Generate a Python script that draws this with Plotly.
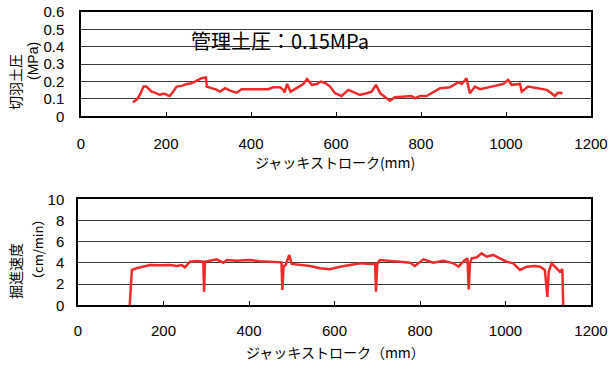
import plotly.graph_objects as go

# Face pressure (MPa) against jack stroke (mm)
stroke_p = [122, 126, 132, 140, 147, 154, 160, 166, 172, 178, 186, 192, 198, 204, 209,
            217, 225, 237, 249, 260, 268, 276, 284, 294, 296, 307, 317, 327, 339, 351,
            366, 378, 398, 421, 441, 452, 468, 476, 479, 485, 493, 507, 523, 532, 543,
            555, 564, 576, 586, 598, 613, 629, 641, 656, 672, 684, 694, 704, 719, 727,
            739, 758, 778, 786, 798, 813, 829, 845, 868, 880, 888, 896, 907, 915, 927,
            939, 962, 978, 994, 1005, 1013, 1033, 1037, 1052, 1072, 1096, 1107, 1115,
            1123, 1133]
pressure = [0.081, 0.090, 0.098, 0.130, 0.171, 0.171, 0.155, 0.142, 0.138, 0.133, 0.123,
            0.130, 0.129, 0.120, 0.117, 0.142, 0.171, 0.175, 0.186, 0.190, 0.200, 0.213,
            0.219, 0.223, 0.171, 0.162, 0.155, 0.142, 0.162, 0.148, 0.136, 0.156, 0.156,
            0.152, 0.156, 0.167, 0.167, 0.152, 0.138, 0.186, 0.142, 0.162, 0.186, 0.215,
            0.181, 0.186, 0.200, 0.190, 0.171, 0.133, 0.117, 0.152, 0.138, 0.123, 0.133,
            0.142, 0.181, 0.133, 0.104, 0.090, 0.110, 0.113, 0.117, 0.104, 0.117, 0.117,
            0.142, 0.162, 0.167, 0.186, 0.196, 0.186, 0.219, 0.133, 0.171, 0.156, 0.167,
            0.175, 0.186, 0.209, 0.181, 0.186, 0.142, 0.171, 0.162, 0.152, 0.133, 0.117,
            0.136, 0.133]

# Excavation speed (cm/min) against jack stroke (mm)
stroke_v = [121, 124, 126, 137, 153, 168, 192, 215, 231, 243, 250, 262, 278, 293, 295,
            297, 309, 324, 340, 348, 371, 402, 426, 449, 472, 476, 478, 481, 486, 494,
            500, 519, 543, 566, 589, 613, 636, 660, 683, 695, 697, 700, 706, 730, 753,
            777, 788, 808, 831, 855, 878, 890, 901, 911, 914, 917, 921, 933, 944, 956,
            971, 987, 1003, 1018, 1034, 1050, 1069, 1081, 1092, 1098, 1101, 1108, 1120,
            1127, 1133, 1135]
speed = [0.0, 2.0, 3.33, 3.49, 3.64, 3.80, 3.77, 3.80, 3.71, 3.80, 3.58, 4.11, 4.18,
         4.11, 1.28, 4.11, 4.21, 4.34, 4.02, 4.27, 4.21, 4.27, 4.15, 4.11, 4.11, 4.05,
         1.44, 3.70, 3.80, 4.75, 3.90, 3.80, 3.71, 3.49, 3.40, 3.64, 3.80, 3.96, 3.90,
         3.90, 1.28, 3.90, 4.27, 4.21, 4.11, 4.02, 3.71, 4.34, 4.02, 4.21, 3.96, 3.64,
         4.11, 4.43, 1.50, 4.00, 4.43, 4.53, 4.90, 4.59, 4.75, 4.43, 4.11, 3.96, 3.33,
         3.64, 3.71, 3.64, 3.33, 0.80, 3.17, 3.96, 3.49, 3.17, 3.40, 0.0]

x_ticks = [0, 200, 400, 600, 800, 1000, 1200]
p_ticks = [0, 0.1, 0.2, 0.3, 0.4, 0.5, 0.6]
v_ticks = [0, 2, 4, 6, 8, 10]

W, H = 608, 365
LINE = "#ee2a2a"
NUM_FONT = dict(family="Liberation Sans, Arial, sans-serif", size=15, color="#000")
JP = "Noto Sans CJK JP"


def px(x):
    return x / W


def py(y):
    return 1 - y / H


fig = go.Figure()
fig.add_trace(go.Scatter(x=stroke_p, y=pressure, mode="lines",
                         line=dict(color=LINE, width=2.5), xaxis="x", yaxis="y",
                         showlegend=False))
fig.add_trace(go.Scatter(x=stroke_v, y=speed, mode="lines",
                         line=dict(color=LINE, width=2.5), xaxis="x2", yaxis="y2",
                         showlegend=False))

xcommon = dict(range=[0, 1200], tickvals=x_ticks, ticks="inside", ticklen=5,
               tickcolor="#000", tickwidth=1, showgrid=False, zeroline=False,
               showline=True, linecolor="#000", linewidth=1.5, mirror=True,
               tickfont=NUM_FONT, automargin=False)
ycommon = dict(ticks="", showgrid=True, gridcolor="#3a3a3a", gridwidth=1,
               zeroline=False, showline=True, linecolor="#000", linewidth=1.5,
               mirror=True, tickfont=NUM_FONT, automargin=False)

fig.update_layout(
    width=W, height=H,
    margin=dict(l=0, r=0, t=0, b=0, autoexpand=False),
    paper_bgcolor="white", plot_bgcolor="white",
    xaxis=dict(domain=[px(81), px(591)], anchor="y", ticklabelstandoff=13, **xcommon),
    yaxis=dict(domain=[py(116.3), py(12)], anchor="x", range=[0, 0.6],
               tickvals=p_ticks, ticktext=["0", "0.1", "0.2", "0.3", "0.4", "0.5", "0.6"],
               ticklabelstandoff=12, **ycommon),
    xaxis2=dict(domain=[px(78), px(591)], anchor="y2", ticklabelstandoff=11, **xcommon),
    yaxis2=dict(domain=[py(305.3), py(199.3)], anchor="x2", range=[0, 10],
                tickvals=v_ticks, ticklabelstandoff=9, **ycommon),
)

ann = [
    dict(x=px(189), y=py(40), text="管理土圧：0.15MPa", xanchor="left", yanchor="middle",
         font=dict(family=JP, size=20, color="#000")),
    dict(x=px(335), y=py(162), text="ジャッキストローク(mm)", xanchor="center",
         yanchor="middle", font=dict(family=JP, size=14, color="#000")),
    dict(x=px(335), y=py(352), text="ジャッキストローク（mm）", xanchor="center",
         yanchor="middle", font=dict(family=JP, size=14, color="#000")),
    dict(x=px(15), y=py(82), text="切羽土圧", textangle=-90, xanchor="center",
         yanchor="middle", font=dict(family=JP, size=14, color="#000")),
    dict(x=px(33), y=py(61), text="(MPa)", textangle=-90, xanchor="center",
         yanchor="middle", font=dict(family="Liberation Sans, Arial", size=14, color="#000")),
    dict(x=px(15), y=py(271), text="掘進速度", textangle=-90, xanchor="center",
         yanchor="middle", font=dict(family=JP, size=14, color="#000")),
    dict(x=px(37), y=py(250), text="（cm/min）", textangle=-90, xanchor="center",
         yanchor="middle", font=dict(family=JP, size=13, color="#000")),
]
for a in ann:
    a.update(xref="paper", yref="paper", showarrow=False)
fig.update_layout(annotations=ann)

fig.write_html("out.html")
